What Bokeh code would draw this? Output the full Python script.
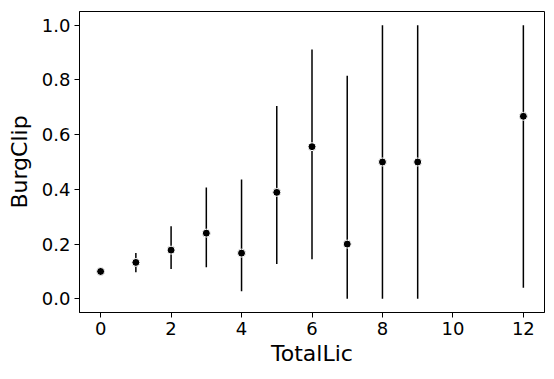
from bokeh.plotting import figure
from bokeh.models import FixedTicker, PrintfTickFormatter, Range1d, ColumnDataSource
from bokeh.embed import file_html
from bokeh.resources import INLINE

total_lic = [0, 1, 2, 3, 4, 5, 6, 7, 8, 9, 12]
burg_clip = [0.1, 0.133, 0.178, 0.24, 0.167, 0.389, 0.556, 0.2, 0.5, 0.5, 0.667]
ci_low = [0.1, 0.097, 0.109, 0.115, 0.028, 0.127, 0.145, 0.0, 0.0, 0.0, 0.04]
ci_high = [0.1, 0.167, 0.265, 0.407, 0.436, 0.705, 0.911, 0.815, 1.0, 1.0, 1.0]
x_ticks = [0, 2, 4, 6, 8, 10, 12]
y_ticks = [0.0, 0.2, 0.4, 0.6, 0.8, 1.0]

src = ColumnDataSource(dict(x=total_lic, y=burg_clip, lo=ci_low, hi=ci_high))

p = figure(width=554, height=379, output_backend="svg", toolbar_location=None,
           x_range=Range1d(-0.6, 12.6), y_range=Range1d(-0.05, 1.05),
           min_border_left=79, min_border_right=10, min_border_top=11, min_border_bottom=67)
p.background_fill_color = "white"
p.border_fill_color = "white"
p.outline_line_color = "black"
p.outline_line_width = 1
p.grid.visible = False

p.segment(x0="x", y0="lo", x1="x", y1="hi", source=src, line_color="black", line_width=1.5)
p.scatter(x="x", y="y", source=src, size=8, fill_color="black", line_color="white", line_width=1)

p.xaxis.ticker = FixedTicker(ticks=x_ticks)
p.yaxis.ticker = FixedTicker(ticks=y_ticks)
p.yaxis.formatter = PrintfTickFormatter(format="%.1f")
p.xaxis.axis_label = "TotalLic"
p.yaxis.axis_label = "BurgClip"
for ax in (p.xaxis, p.yaxis):
    ax.axis_label_text_font = "DejaVu Sans"
    ax.axis_label_text_font_size = "22px"
    ax.axis_label_text_font_style = "normal"
    ax.axis_label_text_color = "black"
    ax.major_label_text_font = "DejaVu Sans"
    ax.major_label_text_font_size = "18px"
    ax.major_label_text_color = "black"
    ax.major_tick_in = 0
    ax.major_tick_out = 5
    ax.minor_tick_out = 0
    ax.minor_tick_in = 0
    ax.axis_line_color = "black"
    ax.major_tick_line_color = "black"
p.xaxis.major_label_standoff = 4
p.yaxis.major_label_standoff = 4
p.xaxis.axis_label_standoff = 3
p.yaxis.axis_label_standoff = 7

open("out.html", "w").write(file_html(p, INLINE))
